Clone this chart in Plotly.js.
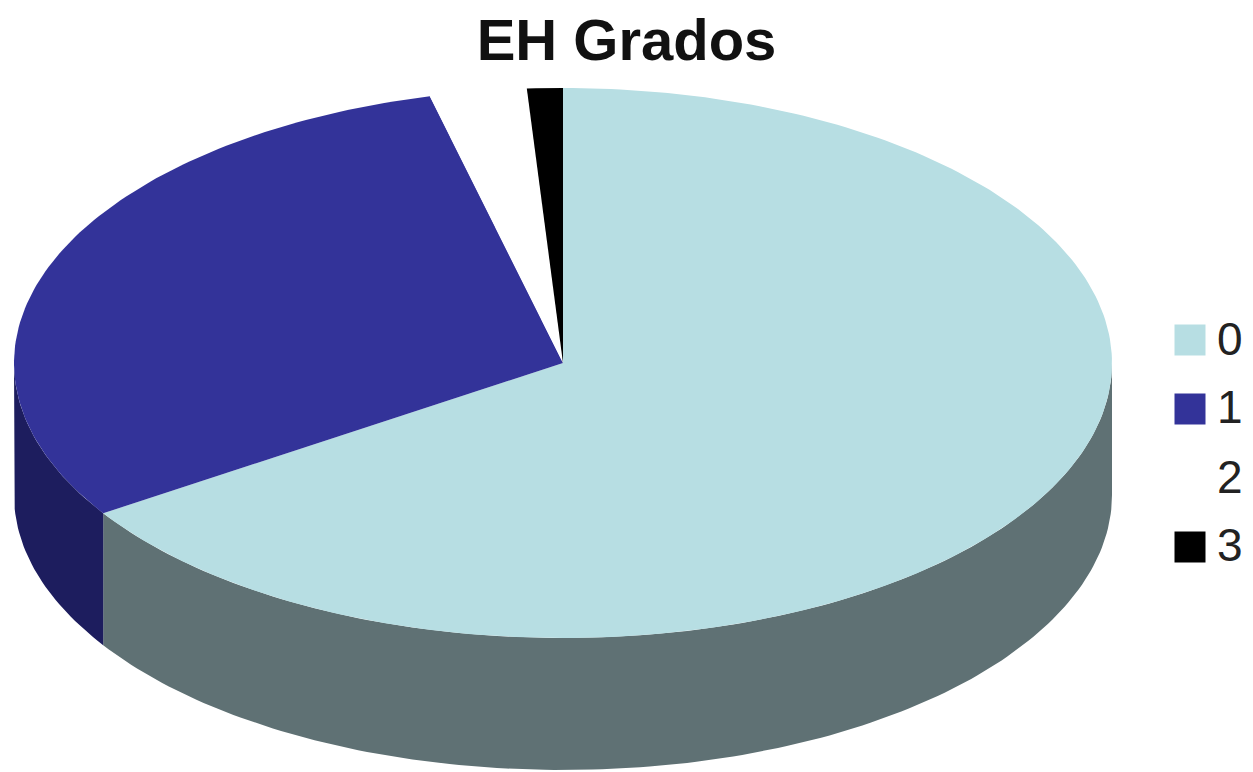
<!DOCTYPE html>
<html>
<head>
<meta charset="utf-8">
<script src="https://cdn.plot.ly/plotly-3.0.1.min.js"></script>
<style>html,body{margin:0;padding:0;background:#fff}#chart{width:1253px;height:772px}</style>
</head>
<body>
<div id="chart"></div>
<script>
// Share of cases per grade
const categories = ['0', '1', '2', '3'];
const shares = [65.8, 30.3, 2.85, 1.05];
const topColors = ['#B7DEE3', '#333399', '#FFFFFF', '#000000'];
const wallColors = ['#5F7174', '#1D1D5E', '#FFFFFF', '#000000'];

// Disc geometry in pixel space: centre, radii, thickness
const cx = 563, cy = 363, rx = 549, ry = 275, depth = 132;
const keyX = 1190, keyTextX = 1217, keyRows = [340, 409, 478, 547], keyTextRows = [343, 411, 481, 549];

const total = shares.reduce((a, b) => a + b, 0);
const rim = (deg, drop) => {
  const t = deg * Math.PI / 180;
  return [cx + rx * Math.sin(t), cy - ry * Math.cos(t) + drop];
};
const arc = (from, to, drop) => {
  const steps = Math.max(2, Math.ceil(Math.abs(to - from)));
  return Array.from({length: steps + 1}, (_, i) => rim(from + (to - from) * i / steps, drop));
};
const polygon = (pts, color) => ({
  type: 'scatter', mode: 'lines', fill: 'toself', fillcolor: color,
  x: pts.map(p => p[0]), y: pts.map(p => p[1]),
  line: {width: 0, color: color}, hoverinfo: 'skip', showlegend: false
});

const walls = [], tops = [];
let start = 0;
shares.forEach((share, i) => {
  const end = start + share / total * 360;
  // Only the part of the rim facing the viewer (90 to 270 degrees) gets a side wall
  const a = Math.max(start, 90), b = Math.min(end, 270);
  if (b > a) walls.push(polygon(arc(a, b, 0).concat(arc(b, a, depth)), wallColors[i]));
  tops.push(polygon([[cx, cy]].concat(arc(start, end, 0)), topColors[i]));
  start = end;
});

// Key at the right edge: square swatches and their labels
const keySwatches = {
  type: 'scatter', mode: 'markers',
  x: categories.map(() => keyX), y: keyRows,
  marker: {symbol: 'square', size: 31, color: topColors, line: {width: 0}},
  hoverinfo: 'skip', showlegend: false, cliponaxis: false
};
const keyLabels = {
  type: 'scatter', mode: 'text',
  x: categories.map(() => keyTextX), y: keyTextRows,
  text: categories, textposition: 'middle right',
  textfont: {family: 'Liberation Sans, Arial, sans-serif', size: 46, color: '#222'},
  hoverinfo: 'text', showlegend: false, cliponaxis: false
};

Plotly.newPlot('chart', walls.concat(tops, [keySwatches, keyLabels]), {
  width: 1253, height: 772,
  margin: {l: 0, r: 0, t: 0, b: 0},
  paper_bgcolor: '#fff', plot_bgcolor: '#fff',
  showlegend: false,
  title: {
    text: '<b>EH Grados</b>', x: 0.5, xanchor: 'center',
    y: 0.949, yanchor: 'middle',
    font: {family: 'Liberation Sans, Arial, sans-serif', size: 58, color: '#111'}
  },
  xaxis: {range: [0, 1253], visible: false, fixedrange: true},
  yaxis: {range: [772, 0], visible: false, fixedrange: true}
}, {displayModeBar: false, staticPlot: true});
</script>
</body>
</html>
